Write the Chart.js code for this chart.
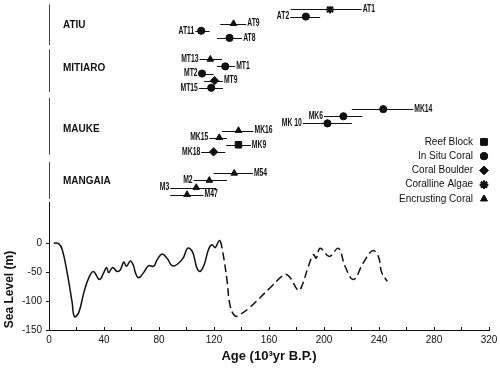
<!DOCTYPE html>
<html>
<head>
<meta charset="utf-8">
<script src="https://cdn.jsdelivr.net/npm/chart.js@4"></script>
<style>
  html, body { margin: 0; padding: 0; background: #fff; }
  #wrap { width: 500px; height: 369px; }
</style>
</head>
<body>
<div id="wrap"><canvas id="chart"></canvas></div>
<script>
// sea level curve, age in 10^3 yr B.P., level in m
const curveAge = [3.5, 7, 9.6, 13.2, 16.8, 18.5, 21.6, 25.3, 28.9, 32.3, 36.7, 39.8, 41.8, 43.4, 46.3, 49.5,
  51.9, 54.3, 56.3, 59.2, 61.6, 62.8, 65.2, 68.8, 72.5, 76.1, 78.6, 82.2, 85.8, 89.5, 93.1, 97.5,
  100.4, 102.3, 104.7, 107.6, 110, 112.9, 116, 118.5, 120.9, 123.3, 124.5,
  126.5, 129.4, 131.8, 135.4, 139, 145.1, 160.9, 171.8, 175.4, 181.4, 183.9, 188.7, 192.3, 194.3,
  197.2, 203.9, 210.5, 215.3, 221.4, 228.6, 235.4, 239.5, 242, 246];
const curveLevel = [0, -1, -11, -51, -102, -127, -120, -86, -60, -49, -63, -51, -42, -51, -42, -49,
  -46, -33, -40, -31, -40, -51, -60, -51, -39, -40, -29, -19, -26, -39, -37, -26,
  -10, -9, -17, -43, -49, -37, -11, -3, -8, 3, 4,
  -17, -63, -109, -126, -123, -113, -77, -54, -60, -82, -74, -40, -20, -26,
  -9, -23, -9, -40, -63, -34, -13, -23, -51, -66];
const dashedFrom = 124.5;

// dated samples
const sampleNames = ['AT1', 'AT2', 'AT9', 'AT11', 'AT8',
  'MT13', 'MT1', 'MT2', 'MT9', 'MT15',
  'MK14', 'MK6', 'MK 10', 'MK16', 'MK15', 'MK9', 'MK18',
  'M54', 'M2', 'M3', 'M47'];
const sampleAge = [204.4, 186.8, 134.2, 110.7, 131.3,
  117.3, 128.2, 111.3, 120.4, 118,
  243.1, 214.1, 202.5, 137.8, 123.8, 137.8, 119.7,
  134.7, 116.6, 107.1, 100.4];
const sampleLow = [175.9, 175.4, 124.5, 106.4, 122.2,
  109.5, 122.2, 108.8, 112.9, 109,
  220.2, 200, 184.6, 125.8, 116.6, 128.9, 110.7,
  119.7, 105.2, 88.2, 88.2];
const sampleHigh = [227.4, 197.2, 143.5, 116.8, 140.5,
  125.8, 135.4, 119.7, 126.5, 126.5,
  264.9, 227.9, 220.2, 148.7, 129.4, 146.8, 128.2,
  148.3, 129.4, 121.6, 112.4];
const sampleRow = [1, 2, 3, 4, 5, 8, 9, 10, 11, 12, 15, 16, 17, 18, 19, 20, 21, 24, 25, 26, 27];
const sampleType = ['algae', 'coral', 'encrust', 'coral', 'coral',
  'encrust', 'coral', 'coral', 'boulder', 'coral',
  'coral', 'coral', 'coral', 'encrust', 'encrust', 'block', 'boulder',
  'encrust', 'encrust', 'encrust', 'encrust'];
const labelSide = ['right', 'left', 'right', 'left', 'right',
  'left', 'right', 'left', 'right', 'left',
  'right', 'left', 'left', 'right', 'left', 'right', 'left',
  'right', 'left', 'left', 'right'];

const islands = ['ATIU', 'MITIARO', 'MAUKE', 'MANGAIA'];
const islandRow = [3.2, 9.3, 17.8, 25.1];
const islandSpan = [[0.3, 6.0], [6.6, 12.6], [13.4, 21.4], [22.4, 27.6]];

const typeKeys = ['block', 'coral', 'boulder', 'algae', 'encrust'];
const typeNames = ['Reef Block', 'In Situ Coral', 'Coral Boulder', 'Coralline Algae', 'Encrusting Coral'];
const typeStyles = ['rect', 'circle', 'rectRot', 'star', 'triangle'];
const typeRadius = [4.6, 3.6, 4.2, 4.2, 3.8];

const levelTicks = [-150, -100, -50, 0];

Chart.defaults.font.family = '"Liberation Sans", Arial, sans-serif';
Chart.defaults.color = '#111';

const ink = '#111';

const pointSets = typeKeys.map((key, t) => ({
  type: 'scatter',
  label: typeNames[t],
  yAxisID: 'yR',
  data: sampleAge.map((a, i) => ({x: a, y: sampleRow[i]})).filter((p, i) => sampleType[i] === key),
  pointStyle: typeStyles[t],
  pointRadius: typeRadius[t],
  backgroundColor: ink,
  borderColor: ink,
  borderWidth: key === 'algae' ? 2 : 1
}));

const seaLevel = {
  type: 'line',
  label: 'Sea level',
  yAxisID: 'yS',
  data: curveAge.map((a, i) => ({x: a, y: curveLevel[i]})),
  borderColor: ink,
  borderWidth: 1.5,
  pointRadius: 0,
  tension: 0.4,
  segment: {
    borderDash: c => c.p0.parsed.x >= dashedFrom ? [8, 4] : undefined
  }
};

// keep the plot area edges fixed, no extra room for edge labels
const noPad = s => {
  s.paddingTop = 0;
  s.paddingBottom = 0;
  s.paddingLeft = 0;
  s.paddingRight = 0;
};

const extras = {
  id: 'extras',
  beforeDatasetsDraw(chart) {
    const {ctx, chartArea, scales: {x, yR}} = chart;
    ctx.save();
    ctx.strokeStyle = ink;
    ctx.lineWidth = 1;
    sampleAge.forEach((a, i) => {
      const py = Math.round(yR.getPixelForValue(sampleRow[i])) + 0.5;
      ctx.beginPath();
      ctx.moveTo(x.getPixelForValue(sampleLow[i]), py);
      ctx.lineTo(x.getPixelForValue(sampleHigh[i]), py);
      ctx.stroke();
    });
    // broken left axis, one piece per island
    ctx.strokeStyle = '#444';
    const lx = Math.round(chartArea.left) + 0.5;
    islandSpan.forEach(s => {
      ctx.beginPath();
      ctx.moveTo(lx, yR.getPixelForValue(s[0]));
      ctx.lineTo(lx, yR.getPixelForValue(s[1]));
      ctx.stroke();
    });
    ctx.restore();
  },
  afterDatasetsDraw(chart) {
    const {ctx, chartArea, scales: {x, yR, yS}} = chart;
    ctx.save();
    ctx.fillStyle = ink;
    ctx.strokeStyle = ink;
    ctx.textBaseline = 'middle';
    ctx.font = 'bold 10px "Liberation Sans", Arial, sans-serif';
    // narrow, condensed sample labels
    sampleNames.forEach((name, i) => {
      const py = yR.getPixelForValue(sampleRow[i]);
      const right = labelSide[i] === 'right';
      const px = right ? x.getPixelForValue(sampleHigh[i]) + 1 : x.getPixelForValue(sampleLow[i]) - 1;
      ctx.save();
      ctx.translate(px, py);
      ctx.scale(0.68, 1);
      ctx.textAlign = right ? 'left' : 'right';
      ctx.fillText(name, 0, 0);
      ctx.restore();
    });

    // legend: text then symbol
    ctx.font = '10px "Liberation Sans", Arial, sans-serif';
    ctx.textAlign = 'right';
    typeNames.forEach((name, t) => {
      const py = yR.getPixelForValue(19.6 + 2 * t);
      ctx.fillText(name, chartArea.right - 16, py);
      ctx.lineWidth = typeKeys[t] === 'algae' ? 2 : 1;
      Chart.helpers.drawPoint(ctx, {
        pointStyle: typeStyles[t],
        radius: typeRadius[t],
        borderWidth: ctx.lineWidth,
        rotation: 0
      }, chartArea.right - 5, py);
      ctx.fill();
      ctx.stroke();
    });

    // y title centred on the 0 .. -150 range
    ctx.font = 'bold 12px "Liberation Sans", Arial, sans-serif';
    ctx.textAlign = 'center';
    ctx.translate(10, (yS.getPixelForValue(0) + yS.getPixelForValue(-150)) / 2 + 3);
    ctx.rotate(-Math.PI / 2);
    ctx.fillText('Sea Level (m)', 0, 0);
    ctx.restore();
  }
};

const ctx = document.getElementById('chart').getContext('2d');

const myChart = new Chart(ctx, {
  data: {datasets: [seaLevel, ...pointSets]},
  options: {
    responsive: true,
    maintainAspectRatio: false,
    animation: false,
    layout: {padding: {top: 0, right: 11, left: 0, bottom: 0}},
    plugins: {
      legend: {display: false},
      tooltip: {enabled: false}
    },
    scales: {
      x: {
        type: 'linear',
        position: 'bottom',
        min: 0,
        max: 320,
        afterFit: s => { s.height = 39; noPad(s); },
        ticks: {
          stepSize: 20,
          autoSkip: false,
          maxRotation: 0,
          padding: 7,
          font: {size: 10},
          callback: v => v % 40 === 0 ? v : ''
        },
        grid: {drawOnChartArea: false, drawTicks: true, tickLength: -3, color: ink},
        border: {color: ink, width: 1},
        title: {
          display: true,
          text: 'Age (10³yr B.P.)',
          font: {size: 13, weight: 'bold'},
          padding: {top: 0, bottom: 5}
        }
      },
      yS: {
        type: 'linear',
        position: 'left',
        stack: 'left',
        stackWeight: 128,
        min: -150,
        max: 70,
        afterFit: s => { s.width = 49; noPad(s); },
        afterBuildTicks: s => { s.ticks = levelTicks.map(v => ({value: v})); },
        ticks: {padding: 4, font: {size: 10}},
        grid: {drawOnChartArea: false, drawTicks: true, tickLength: 3, color: ink},
        border: {color: ink, width: 1}
      },
      yR: {
        type: 'linear',
        position: 'left',
        stack: 'left',
        stackWeight: 197,
        min: 0.55,
        max: 28.1,
        reverse: true,
        afterFit: s => { s.width = 49; noPad(s); },
        afterBuildTicks: s => { s.ticks = islandRow.map(v => ({value: v})); },
        ticks: {
          mirror: true,
          padding: 14,
          font: {size: 10, weight: 'bold'},
          callback: (v, i) => islands[i]
        },
        grid: {display: false, drawTicks: false},
        border: {display: false}
      }
    }
  },
  plugins: [extras]
});
</script>
</body>
</html>
